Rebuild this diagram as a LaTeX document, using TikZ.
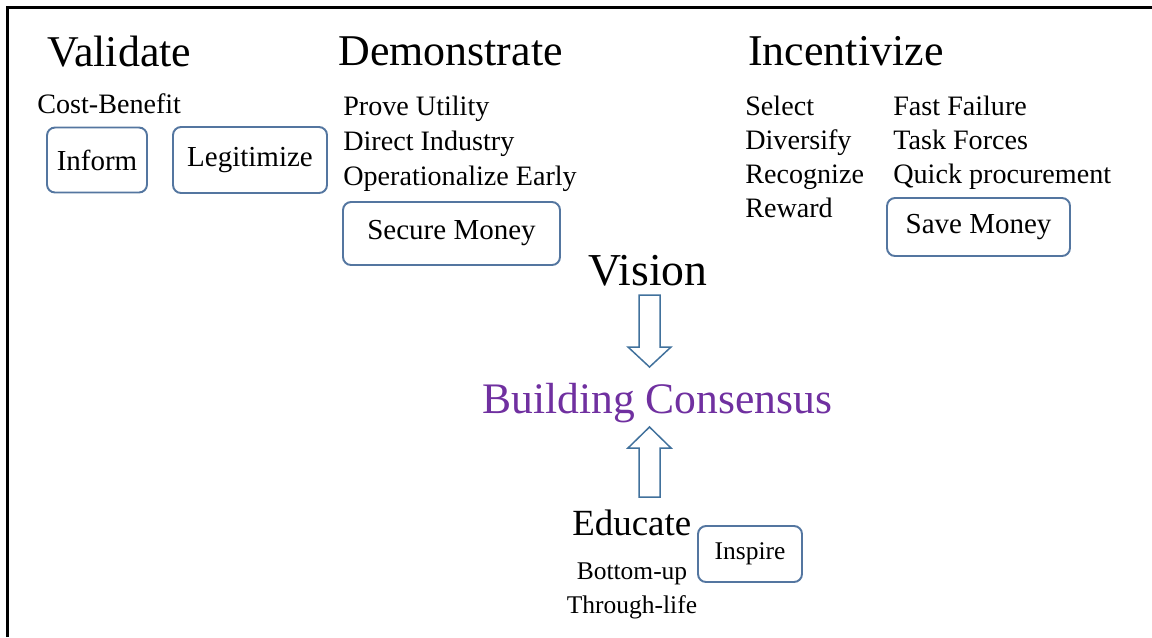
\documentclass[tikz,border=0pt]{standalone}
\usepackage{fontspec}
\setmainfont{LiberationSerif}[Extension=.ttf, UprightFont=*-Regular, BoldFont=*-Bold]
\usetikzlibrary{positioning}

\definecolor{boxblue}{RGB}{84,118,160}
\definecolor{arrowblue}{RGB}{65,113,156}
\definecolor{consensus}{RGB}{112,48,160}

\begin{document}
\begin{tikzpicture}[x=0.02cm, y=-0.02cm]
		\tikzstyle{Head} = [anchor=base west, inner sep=0, font=\fontsize{25}{30}\selectfont]
		\tikzstyle{item} = [anchor=base west, inner sep=0, font=\fontsize{16}{19}\selectfont]
		\tikzstyle{Box} = [rectangle, rounded corners=0.16cm, draw=boxblue, line width=1.1pt, fill=white, inner sep=0, text centered, font=\fontsize{16.5}{19}\selectfont]
		\tikzstyle{blockarrow} = [draw=arrowblue, line width=0.85pt, fill=white, line join=miter]
		
		\useasboundingbox (0,0) rectangle (1152,637);
		\draw [line width=1.7pt, black] (7.5,637) -- (7.5,7) -- (1152,7);
		
		% validate
		\node (validate) [Head] at (47,66) {Validate};
		\node (cost) [item] at (37,113) {Cost-Benefit};
		\node (inform) [Box, minimum width=2cm, minimum height=1.3cm] at (97,160) {Inform};
		\node (legit) [Box, minimum width=3.08cm, minimum height=1.32cm] at (250,160) {Legitimize};
		
		% demonstrate
		\node (demo) [Head] at (338,65) {Demonstrate};
		\foreach \txt [count=\i] in {Prove Utility, Direct Industry, Operationalize Early}
			\node (demo\i) [item] at (343,80+35*\i) {\txt};
		\node (secure) [Box, minimum width=4.34cm, minimum height=1.26cm] at (451.5,233.5) {Secure Money};
		
		% incentivize
		\node (incent) [Head] at (748,65) {Incentivize};
		\foreach \txt [count=\i] in {Select, Diversify, Recognize, Reward}
			\node (inca\i) [item] at (745,81+34*\i) {\txt};
		\foreach \txt [count=\i] in {Fast Failure, Task Forces, Quick procurement}
			\node (incb\i) [item] at (893,81+34*\i) {\txt};
		\node (save) [Box, minimum width=3.66cm, minimum height=1.16cm] at (978.5,227) {Save Money};
		
		% centre
		\node (vision) [anchor=base west, inner sep=0, font=\fontsize{26}{31}\selectfont] at (588,285) {Vision};
		\node (consensus) [anchor=base west, inner sep=0, text=consensus, font=\fontsize{24.8}{30}\selectfont] at (482,413) {Building Consensus};
		\node (educate) [anchor=base west, inner sep=0, font=\fontsize{21}{25}\selectfont] at (572,535) {Educate};
		\node (bottom) [anchor=base, inner sep=0, font=\fontsize{14.5}{17}\selectfont] at (632,579) {Bottom-up};
		\node (life) [anchor=base, inner sep=0, font=\fontsize{14.5}{17}\selectfont] at (632,613) {Through-life};
		\node (inspire) [Box, minimum width=2.08cm, minimum height=1.12cm, font=\fontsize{14.5}{17}\selectfont] at (750,554) {Inspire};
		
		% block arrows
		\coordinate (down) at (639,295);
		\coordinate (up) at (639,497);
		\draw [blockarrow] (down) -- ++(0,52) -- ++(-11,0) -- ++(21.5,20) -- ++(21.5,-20) -- ++(-11,0) -- ++(0,-52) -- cycle;
		\draw [blockarrow] (up) -- ++(0,-49) -- ++(-11,0) -- ++(21.5,-21) -- ++(21.5,21) -- ++(-11,0) -- ++(0,49) -- cycle;
\end{tikzpicture}
\end{document}
